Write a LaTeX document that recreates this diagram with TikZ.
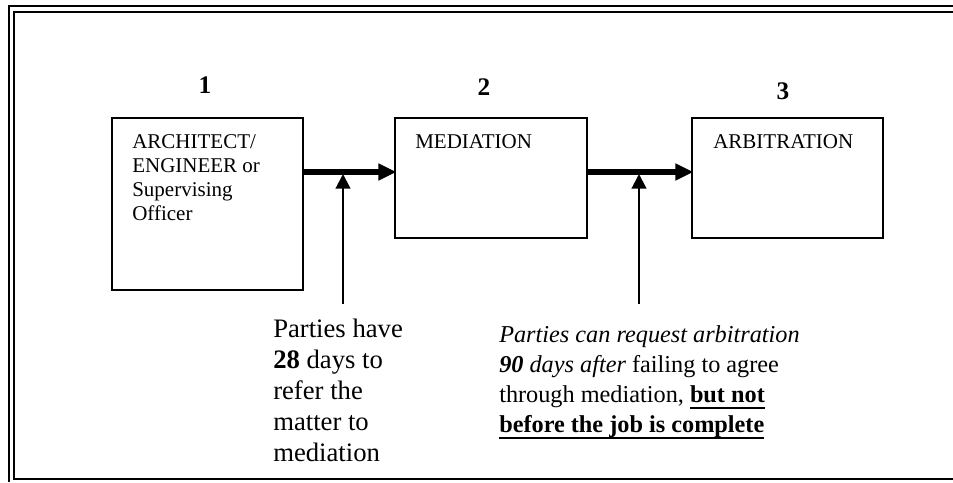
\documentclass[tikz,border=0pt]{standalone}
\usepackage{fontspec}
\setmainfont{Liberation Serif}
\usetikzlibrary{arrows.meta}
% bold underline set at a fixed depth below the baseline
\newcommand\lowul[1]{\leavevmode\setbox0\hbox{#1}\rlap{\rule[-0.25em]{\wd0}{0.085em}}\box0}
\begin{document}
\begin{tikzpicture}[x=0.75pt,y=-0.75pt,
  frameline/.style={line width=1.6pt},
  stagebox/.style={draw,line width=1.2pt,anchor=north west,inner sep=0pt,outer sep=0pt},
  boxtext/.style={anchor=base west,inner sep=0pt,align=left,
    font=\fontsize{15.75pt}{18pt}\selectfont},
  stagenum/.style={inner sep=0pt,font=\fontsize{19pt}{22pt}\selectfont\bfseries},
  flow/.style={line width=3.8pt,-{Triangle[length=13.5pt,width=12pt]},shorten >=-1pt},
  feed/.style={line width=1.6pt,-{Triangle[length=11pt,width=11pt]}},
  notetext/.style={anchor=base west,inner sep=0pt,align=left}]
\useasboundingbox (0,0) rectangle (953,482);

% page frame: double rule at top and left, single rule at bottom
\draw[frameline] (9,482) -- (9,6) -- (953,6);
\draw[frameline] (953,12) -- (14,12) -- (14,479) -- (953,479);

% stage boxes
\node[stagebox,minimum width=143.25pt,minimum height=129pt] (b1) at (112,118) {};
\node[stagebox,minimum width=144pt,minimum height=90pt] (b2) at (395,118) {};
\node[stagebox,minimum width=143.25pt,minimum height=90pt] (b3) at (692,118) {};

% stage numbers
\node[stagenum] (n1) at (205,85) {1};
\node[stagenum] (n2) at (484,87) {2};
\node[stagenum] (n3) at (783,91) {3};

% box labels (a multi-line node sits on the baseline of its last line)
\node[boxtext] (t1) at (132,220) {ARCHITECT/\\ENGINEER or\\Supervising\\Officer};
\node[boxtext] (t2) at (415,148.5) {MEDIATION};
\node[boxtext] (t3) at (713,148.5) {ARBITRATION};

% flow between stages
\draw[flow] ([yshift=-40.5pt]b1.north east) -- ([yshift=-40.5pt]b2.north west);
\draw[flow] ([yshift=-40.5pt]b2.north east) -- ([yshift=-40.5pt]b3.north west);

% time limits feeding into the flow
\coordinate (f1s) at (343,304);
\coordinate (f1e) at (343,174);
\coordinate (f2s) at (639,304);
\coordinate (f2e) at (639,174);
\draw[feed] (f1s) -- (f1e);
\draw[feed] (f2s) -- (f2e);

\node[notetext,font=\fontsize{20pt}{23.2pt}\selectfont] (note1) at (273,461.7)
  {Parties have\\\textbf{28} days to\\refer the\\matter to\\mediation};
\node[notetext,font=\fontsize{18.2pt}{22.7pt}\selectfont] (note2) at (499,432.8)
  {\textit{Parties can request arbitration}\\
   \textit{\textbf{90} days after} failing to agree\\
   through mediation, \lowul{\textbf{but not}}\\
   \lowul{\textbf{before the job is complete}}};
\end{tikzpicture}
\end{document}
